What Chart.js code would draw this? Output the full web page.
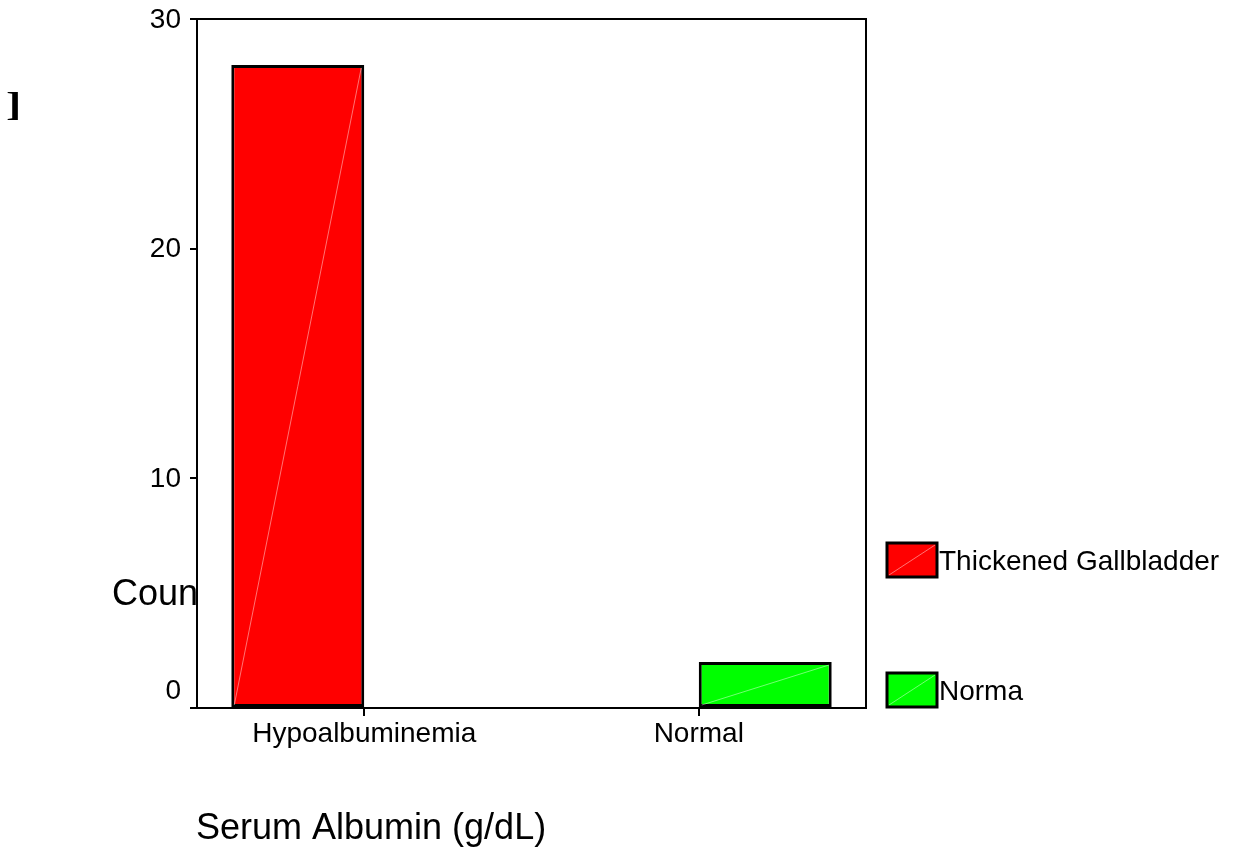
<!DOCTYPE html>
<html>
<head>
<meta charset="utf-8">
<script src="https://cdn.jsdelivr.net/npm/chart.js@4.4.0/dist/chart.umd.min.js"></script>
<style>
  html, body { margin: 0; padding: 0; background: #fff; overflow: hidden; }
  canvas { display: block; }
</style>
</head>
<body>
<canvas id="myChart" width="1237" height="850"></canvas>
<script>
// data
const categories = ['Hypoalbuminemia', 'Normal'];
const thickenedCounts = [28, null];
const normalCounts = [null, 2];
const seriesNames = ['Thickened Gallbladder', 'Norma'];
const yTicks = [0, 10, 20, 30];
const yTitle = 'Count';
const xTitle = 'Serum Albumin (g/dL)';

const FONT = '"Liberation Sans", Arial, sans-serif';

// frame, tick labels, titles and legend drawn like the SPSS output
const extras = {
    id: 'extras',
    beforeDatasetsDraw(chart) {
        const ctx = chart.ctx;
        const a = chart.chartArea;
        const y = chart.scales.y;
        ctx.save();
        ctx.fillStyle = '#000';
        ctx.font = '28px ' + FONT;
        ctx.textAlign = 'right';
        ctx.textBaseline = 'middle';
        yTicks.forEach(v => {
            const lift = v === 0 ? 18 : 0;
            ctx.fillText(String(v), 181, y.getPixelForValue(v) - lift + 1);
        });

        // y title, clipped by the plot's left edge
        ctx.save();
        ctx.beginPath();
        ctx.rect(0, 0, a.left, chart.height);
        ctx.clip();
        ctx.font = '36px ' + FONT;
        ctx.textAlign = 'left';
        ctx.textBaseline = 'alphabetic';
        ctx.fillText(yTitle, 112, 605);
        ctx.restore();

        // x title
        ctx.font = '36px ' + FONT;
        ctx.textAlign = 'left';
        ctx.textBaseline = 'alphabetic';
        ctx.fillText(xTitle, 196, 839);

        // stray mark at top left
        ctx.font = 'bold 34px "Liberation Serif", serif';
        ctx.save();
        ctx.translate(6, 116);
        ctx.scale(1.35, 1);
        ctx.fillText(']', 0, 0);
        ctx.restore();
        ctx.restore();
    },
    afterDatasetsDraw(chart) {
        const ctx = chart.ctx;
        const a = chart.chartArea;
        ctx.save();
        // faint diagonal inside each bar
        ctx.strokeStyle = 'rgba(255,255,255,0.45)';
        ctx.lineWidth = 1;
        chart.data.datasets.forEach((ds, i) => {
            chart.getDatasetMeta(i).data.forEach((bar, j) => {
                if (ds.data[j] == null) return;
                const left = bar.x - bar.width / 2;
                const right = bar.x + bar.width / 2;
                ctx.beginPath();
                ctx.moveTo(left + 3, bar.base - 2);
                ctx.lineTo(right - 3, bar.y + 3);
                ctx.stroke();
            });
        });

        // frame top and right
        ctx.strokeStyle = '#000';
        ctx.lineWidth = 2;
        ctx.beginPath();
        ctx.moveTo(a.left - 7, a.top);
        ctx.lineTo(a.right, a.top);
        ctx.lineTo(a.right, a.bottom);
        ctx.stroke();

        // legend
        const boxTops = [543, 673];
        ctx.font = '28px ' + FONT;
        ctx.textAlign = 'left';
        ctx.textBaseline = 'middle';
        chart.data.datasets.forEach((ds, i) => {
            const bx = 887, by = boxTops[i], bw = 50, bh = 34;
            ctx.fillStyle = ds.backgroundColor;
            ctx.fillRect(bx, by, bw, bh);
            ctx.strokeStyle = 'rgba(255,255,255,0.45)';
            ctx.lineWidth = 1;
            ctx.beginPath();
            ctx.moveTo(bx + 2, by + bh - 2);
            ctx.lineTo(bx + bw - 2, by + 2);
            ctx.stroke();
            ctx.strokeStyle = '#000';
            ctx.lineWidth = 3;
            ctx.strokeRect(bx, by, bw, bh);
            ctx.fillStyle = '#000';
            ctx.fillText(ds.label, 939, by + bh / 2 + 2);
        });
        ctx.restore();
    }
};

const ctx = document.getElementById('myChart').getContext('2d');
const myChart = new Chart(ctx, {
    type: 'bar',
    data: {
        labels: categories,
        datasets: [{
            label: seriesNames[0],
            data: thickenedCounts,
            backgroundColor: '#ff0000',
            borderColor: '#000',
            borderWidth: 3,
            borderSkipped: false
        }, {
            label: seriesNames[1],
            data: normalCounts,
            backgroundColor: '#00ff00',
            borderColor: '#000',
            borderWidth: 3,
            borderSkipped: false
        }]
    },
    options: {
        responsive: false,
        animation: false,
        devicePixelRatio: 1,
        layout: { padding: { left: 190, top: 19, right: 371, bottom: 100 } },
        plugins: {
            legend: { display: false },
            tooltip: { enabled: false }
        },
        datasets: {
            bar: { categoryPercentage: 0.795, barPercentage: 1.0 }
        },
        scales: {
            x: {
                grid: {
                    display: true,
                    offset: false,
                    drawOnChartArea: false,
                    drawTicks: true,
                    tickLength: 8,
                    color: '#000',
                    lineWidth: 2
                },
                border: { display: true, color: '#000', width: 2 },
                ticks: {
                    color: '#000',
                    padding: 1,
                    maxRotation: 0,
                    font: { family: FONT, size: 28 }
                },
                afterFit(scale) { scale.height = 42; }
            },
            y: {
                min: 0,
                max: 30,
                grid: {
                    display: true,
                    drawOnChartArea: false,
                    drawTicks: true,
                    tickLength: 7,
                    color: '#000',
                    lineWidth: 2
                },
                border: { display: true, color: '#000', width: 2 },
                ticks: { display: false, stepSize: 10 },
                afterFit(scale) { scale.width = 7; }
            }
        }
    },
    plugins: [extras]
});
</script>
</body>
</html>
